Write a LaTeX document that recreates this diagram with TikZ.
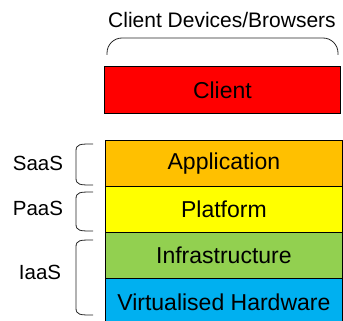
\documentclass[tikz,border=0pt]{standalone}
\usepackage{fontspec}
\setmainfont{Liberation Sans}
\begin{document}
\begin{tikzpicture}[x=1pt,y=-1pt,
  layer/.style={draw=black, line width=0.8pt, minimum width=237pt, minimum height=46pt,
    inner sep=0pt, font=\fontsize{23}{26}\selectfont, anchor=north west},
  tag/.style={font=\fontsize{20.5}{24}\selectfont, inner sep=0pt},
  bracket/.style={line width=0.8pt, black!85}]
\useasboundingbox (0,0) rectangle (343,321);
\definecolor{clientred}{HTML}{FF0000}
\definecolor{apporange}{HTML}{FFC000}
\definecolor{platyellow}{HTML}{FFFF00}
\definecolor{infragreen}{HTML}{92D050}
\definecolor{hwblue}{HTML}{00B0F0}

% client layer and its caption
\node[layer, fill=clientred, minimum width=236pt, minimum height=47pt] (client) at (104,66) {Client};
\node[tag, font=\fontsize{21}{24}\selectfont] (devices) at (222,20) {Client Devices/Browsers};
\coordinate (cbl) at (107,55);
\coordinate (cbr) at (338,55);
\draw[bracket, rounded corners=15pt] (cbl) -- (107,38) -- (338,38) -- (cbr);

% service stack
\node[layer, fill=apporange] (app) at (105,140) {Application};
\node[layer, fill=platyellow] (plat) at (105,186) {Platform};
\node[layer, fill=infragreen] (infra) at (105,232) {Infrastructure};
\node[layer, fill=hwblue, minimum height=47pt] (hw) at (105,278) {Virtualised Hardware};

% service model brackets
\coordinate (s1) at (93,144); \coordinate (s2) at (93,185);
\coordinate (p1) at (93,192); \coordinate (p2) at (93,231);
\coordinate (i1) at (93,240); \coordinate (i2) at (93,315);
\foreach \a/\b in {s1/s2, p1/p2, i1/i2}{
  \draw[bracket] (\a) .. controls (80,0 |- \a) and (76,0 |- \a) .. ([shift={(-17,7)}]\a)
    -- ([shift={(-17,-7)}]\b) .. controls (76,0 |- \b) and (80,0 |- \b) .. (\b);
}
\node[tag] (saas) at (38,163) {SaaS};
\node[tag] (paas) at (38,208) {PaaS};
\node[tag] (iaas) at (40,272) {IaaS};
\end{tikzpicture}
\end{document}
